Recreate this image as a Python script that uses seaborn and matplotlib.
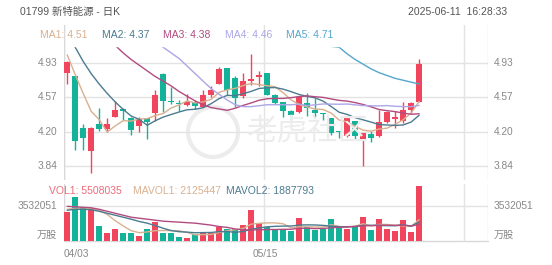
import numpy as np
import pandas as pd
import matplotlib
matplotlib.use("Agg")
import matplotlib.pyplot as plt
from matplotlib.patches import Ellipse
import seaborn as sns

sns.set_theme(style="white")
plt.rcParams['font.family'] = ['Liberation Sans', 'Noto Sans CJK SC', 'DejaVu Sans']

# ---------------- data ----------------
dates_lbl = ["04/03", "05/15"]
opens  = [4.83, 4.80, 4.24, 4.00, 4.29, 4.23, 4.36, 4.45, 4.35, 4.26, 4.35, 4.40,
          4.82, 4.53, 4.51, 4.485, 4.52, 4.47, 4.59, 4.71, 4.88, 4.77, 4.58, 4.74,
          4.78, 4.83, 4.59, 4.52, 4.42, 4.41, 4.51, 4.43, 4.40, 4.35, 4.21, 4.16,
          4.32, 4.13, 4.18, 4.16, 4.31, 4.34, 4.32, 4.434, 4.52]
highs  = [4.95, 4.80, 4.29, 4.25, 4.46, 4.35, 4.53, 4.46, 4.36, 4.36, 4.35, 4.65,
          4.83, 4.68, 4.54, 4.60, 4.54, 4.65, 4.69, 4.89, 4.88, 4.80, 4.83, 5.03,
          4.85, 4.83, 4.60, 4.52, 4.43, 4.57, 4.62, 4.56, 4.40, 4.35, 4.21, 4.36,
          4.32, 4.19, 4.21, 4.43, 4.42, 4.42, 4.52, 4.52, 4.98]
lows   = [4.71, 4.01, 4.01, 3.77, 4.21, 4.20, 4.36, 4.33, 4.17, 4.20, 4.13, 4.32,
          4.41, 4.50, 4.42, 4.48, 4.45, 4.47, 4.575, 4.71, 4.59, 4.47, 4.56, 4.70,
          4.69, 4.59, 4.50, 4.36, 4.33, 4.40, 4.37, 4.36, 4.33, 4.17, 4.14, 4.15,
          4.13, 3.84, 4.09, 4.15, 4.30, 4.24, 4.30, 4.40, 4.52]
closes = [4.94, 4.11, 4.14, 4.24, 4.23, 4.285, 4.43, 4.42, 4.22, 4.335, 4.31, 4.59,
          4.53, 4.515, 4.50, 4.52, 4.48, 4.59, 4.65, 4.87, 4.65, 4.56, 4.74, 4.76,
          4.81, 4.59, 4.505, 4.42, 4.38, 4.57, 4.455, 4.40, 4.39, 4.19, 4.20, 4.36,
          4.16, 4.19, 4.14, 4.31, 4.41, 4.36, 4.434, 4.505, 4.92]
volumes = [2.88e6, 4.41e6, 3.45e6, 3.23e6, 1.54e6, 0.78e6, 1.26e6, 0.78e6, 0.84e6,
           0.53e6, 1.18e6, 1.89e6, 0.84e6, 0.84e6, 0.43e6, 0.33e6, 0.68e6, 0.94e6,
           0.94e6, 1.38e6, 1.21e6, 1.21e6, 1.61e6, 3.10e6, 1.79e6, 1.44e6, 1.18e6,
           1.18e6, 1.04e6, 2.35e6, 1.38e6, 1.11e6, 1.18e6, 2.25e6, 1.38e6, 1.21e6,
           1.48e6, 2.39e6, 1.11e6, 2.19e6, 1.18e6, 1.04e6, 2.12e6, 0.94e6, 5508035]

# moving-average values before each window is complete
ma5_head  = [5.02, 4.81, 4.61, 4.42]
ma10_head = [5.25, 5.10, 4.95, 4.82, 4.71, 4.61, 4.52, 4.44, 4.37]
ma20_head = [5.55, 5.50, 5.43, 5.36, 5.29, 5.20, 5.12, 5.04, 4.97, 4.91, 4.85,
             4.79, 4.74, 4.69, 4.63, 4.58, 4.53, 4.49, 4.46]
ma30_head = [6.0, 5.9, 5.8, 5.7, 5.6, 5.5, 5.45, 5.4, 5.33, 5.27, 5.2, 5.15, 5.1,
             5.04, 4.98, 4.9, 4.82, 4.74, 4.66, 4.6, 4.54, 4.49, 4.47, 4.47, 4.48,
             4.49, 4.49, 4.49, 4.49]
ma60 = [6.4, 6.35, 6.3, 6.25, 6.2, 6.15, 6.1, 6.05, 6.0, 5.95, 5.9, 5.85, 5.8, 5.75,
        5.7, 5.65, 5.6, 5.55, 5.5, 5.46, 5.42, 5.38, 5.34, 5.31, 5.28, 5.25, 5.23,
        5.21, 5.19, 5.17, 5.15, 5.13, 5.12, 5.11, 5.10, 5.03, 4.97, 4.92, 4.87,
        4.83, 4.80, 4.77, 4.75, 4.73, 4.71]
mavol5_head  = [3.2e6, 3.3e6, 3.35e6, 3.3e6]
mavol10_head = [3.1e6, 3.2e6, 3.2e6, 3.15e6, 3.0e6, 2.8e6, 2.6e6, 2.4e6, 2.2e6]
mavol20_head = [3.5e6, 3.45e6, 3.4e6, 3.35e6, 3.2e6, 3.0e6, 2.8e6, 2.6e6, 2.4e6,
                2.3e6, 2.2e6, 2.1e6, 2.0e6, 1.95e6, 1.9e6, 1.85e6, 1.8e6, 1.7e6, 1.6e6]

price_ticks = [4.93, 4.57, 4.20, 3.84]
vol_tick = 3532051
legend_vals = {"MA1": 4.51, "MA2": 4.37, "MA3": 4.38, "MA4": 4.46, "MA5": 4.71}
vol_legend = {"VOL1": 5508035, "MAVOL1": 2125447, "MAVOL2": 1887793}

# ---------------- styles ----------------
RED = "#f0455c"
TEAL = "#15b29a"
C_MA = ["#d9b08f", "#4b7b90", "#b24b80", "#aca6e6", "#55a6cc"]
GRID = "#e3e3e3"
TXT = "#888888"
WM = "#ececec"

n = len(closes)
idx = np.arange(n)
df = pd.DataFrame({"i": idx, "open": opens, "high": highs, "low": lows,
                   "close": closes, "vol": volumes})
df["dir"] = np.where(df["close"] >= df["open"], "up", "down")


def with_head(series, win, head):
    r = series.rolling(win).mean().to_numpy()
    r[:len(head)] = head
    return r

ma_lines = [with_head(df["close"], 5, ma5_head),
            with_head(df["close"], 10, ma10_head),
            with_head(df["close"], 20, ma20_head),
            with_head(df["close"], 30, ma30_head),
            np.array(ma60)]
vol_ma = [with_head(df["vol"], 5, mavol5_head),
          with_head(df["vol"], 10, mavol10_head),
          with_head(df["vol"], 20, mavol20_head)]

W, H = 552, 265
fig = plt.figure(figsize=(W / 100, H / 100), dpi=100)


def px_axes(x0, y0, x1, y1):
    return fig.add_axes([x0 / W, 1 - y1 / H, (x1 - x0) / W, (y1 - y0) / H])

XL, XR = 64, 488

# watermark (behind everything)
fig.add_artist(Ellipse((213 / W, 1 - 132 / H), 50 / W, 50 / H, fill=False,
                       ec=WM, lw=3, zorder=0))
fig.text(247 / W, 1 - 132 / H, "老虎社区", ha="left", va="center", fontsize=22,
         color=WM, style="italic", family=["Noto Sans CJK SC"], zorder=0)

ax = px_axes(XL, 25, XR, 180)
axv = px_axes(XL, 184, XR, 241)

xlim = (-0.4, 52.6)
# price scale: 4.93 at y=63.3, 94.2 px per unit
ytop = 4.93 + (63.3 - 25) / 94.2
ybot = 4.93 - (180 - 63.3) / 94.2

for a in (ax, axv):
    a.set_xlim(*xlim)
    a.set_facecolor("none")
    for s in a.spines.values():
        s.set_visible(False)
    a.tick_params(left=False, bottom=False, labelleft=False, labelbottom=False)
ax.set_ylim(ybot, ytop)
axv.set_ylim(0, (241 - 184) * 100916)

# gridlines
for t in price_ticks:
    ax.axhline(t, color=GRID, lw=1, zorder=0)
axv.axhline(vol_tick, color=GRID, lw=1, zorder=0)
axv.axhline(0, color="#d8d8d8", lw=1, zorder=0, clip_on=False)
vgrid = [-0.375, 24.625, 49.625]
for a in (ax, axv):
    for g in vgrid + [xlim[1]]:
        a.axvline(g, color=GRID, lw=1, zorder=0)
ax.axvline(xlim[0], color="#d8d8d8", lw=1, zorder=0)
axv.axvline(xlim[0], color="#d8d8d8", lw=1, zorder=0)

# candles
bw = 0.75
for _, r in df.iterrows():
    c = RED if r["dir"] == "up" else TEAL
    ax.vlines(r["i"], r["low"], r["high"], color=c, lw=1, zorder=3)
    lo, hi = sorted([r["open"], r["close"]])
    ax.bar(r["i"], max(hi - lo, 0.006), bottom=lo, width=bw, color=c,
           zorder=3, linewidth=0)

# moving averages
for m, c in zip(ma_lines, C_MA):
    sns.lineplot(x=idx, y=m, color=c, lw=1, ax=ax, zorder=4)

# mask the legend strip at top of price panel
top_mask_y = 4.93 + (63.3 - 46) / 94.2
ax.axhspan(top_mask_y, ytop, color="white", zorder=5)
for g in vgrid + [xlim[1]]:
    ax.axvline(g, ymin=(top_mask_y - ybot) / (ytop - ybot), color=GRID, lw=1, zorder=6)
ax.axvline(xlim[0], ymin=(top_mask_y - ybot) / (ytop - ybot), color="#d8d8d8", lw=1, zorder=6)

# volume bars
sns.barplot(data=df, x="i", y="vol", hue="dir", palette={"up": RED, "down": TEAL},
            native_scale=True, width=bw, dodge=False, legend=False, ax=axv,
            saturation=1, zorder=3, linewidth=0)
for m, c in zip(vol_ma, [C_MA[0], C_MA[1], C_MA[2]]):
    sns.lineplot(x=idx, y=m, color=c, lw=1, ax=axv, zorder=4)
axv.set_xlim(*xlim)
axv.set_ylim(0, (241 - 184) * 100916)
axv.set_xlabel("")
axv.set_ylabel("")
ax.set_xlabel("")
ax.set_ylabel("")

# tick labels as text
fs = 7.3
for t in price_ticks:
    ax.text(xlim[0] - 0.85, t, f"{t:.2f}", ha="right", va="center",
            fontsize=fs, color=TXT, clip_on=False)
    ax.text(xlim[1] + 0.7, t, f"{t:.2f}", ha="left", va="center",
            fontsize=fs, color=TXT, clip_on=False)
axv.text(xlim[0] - 0.85, vol_tick, f"{vol_tick}", ha="right", va="center",
         fontsize=fs, color=TXT, clip_on=False)
axv.text(xlim[1] + 0.7, vol_tick, f"{vol_tick}", ha="left", va="center",
         fontsize=fs, color=TXT, clip_on=False)
axv.text(xlim[0] - 0.85, 0.08e6, "万股", ha="right", va="bottom",
         fontsize=fs, color=TXT, clip_on=False)
axv.text(xlim[1] + 0.7, 0.08e6, "万股", ha="left", va="bottom",
         fontsize=fs, color=TXT, clip_on=False)

# x labels
fig.text(XL / W, 1 - 254 / H, dates_lbl[0], ha="left", va="center", fontsize=fs, color=TXT)
fig.text(265 / W, 1 - 254 / H, dates_lbl[1], ha="center", va="center", fontsize=fs, color=TXT)

# header
fig.text(20 / W, 1 - 12 / H, "01799 新特能源 - 日K", ha="left", va="center",
         fontsize=7.5, color="#555555")
fig.text(507 / W, 1 - 12 / H, "2025-06-11  16:28:33", ha="right", va="center",
         fontsize=7.5, color="#555555")

# MA legend
xs = [40, 102, 163, 225, 286]
for (k, v), x, c in zip(legend_vals.items(), xs, C_MA):
    fig.text(x / W, 1 - 35 / H, f"{k}: {v:.2f}", ha="left", va="center",
             fontsize=7.5, color=c)
vcols = ["#ee6b78", C_MA[0], C_MA[1]]
vxs = [49, 133, 226]
for (k, v), x, c in zip(vol_legend.items(), vxs, vcols):
    fig.text(x / W, 1 - 191 / H, f"{k}: {v}", ha="left", va="center",
             fontsize=7.5, color=c)

fig.savefig("out.png", dpi=100)
